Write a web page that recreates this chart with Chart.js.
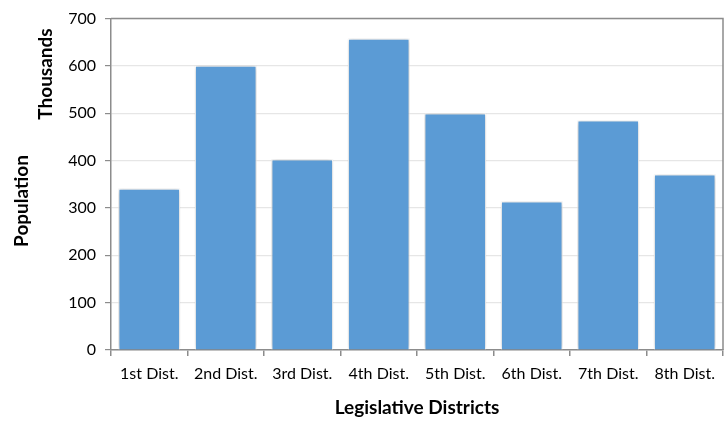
<!DOCTYPE html>
<html><head><meta charset="utf-8">
<script src="https://cdn.jsdelivr.net/npm/chart.js@4"></script>
<style>html,body{margin:0;padding:0;background:#fff}#wrap{width:727px;height:423px}</style>
</head><body><div id="wrap"><canvas id="c" width="727" height="423"></canvas></div>
<script>
const categories = ["1st Dist.", "2nd Dist.", "3rd Dist.", "4th Dist.", "5th Dist.", "6th Dist.", "7th Dist.", "8th Dist."];
const population = [341, 601, 403, 658, 500, 314, 485, 371];
const yTicks = [0, 100, 200, 300, 400, 500, 600, 700];
const xTitle = "Legislative Districts";
const yTitle = "Population";
const unitsLabel = "Thousands";

const FONT = "Lato, 'Open Sans', sans-serif";

function vText(ctx, text, x, y) {
  ctx.save();
  ctx.translate(x, y);
  ctx.rotate(-Math.PI / 2);
  ctx.font = "bold 19px " + FONT;
  ctx.fillStyle = '#000';
  ctx.textAlign = 'center';
  ctx.textBaseline = 'middle';
  ctx.fillText(text, 0, 0);
  ctx.restore();
}

const extras = {
  id: 'extras',
  beforeDatasetsDraw(chart) {
    const ctx = chart.ctx;
    ctx.save();
    ctx.shadowColor = 'rgba(0,0,0,0.28)';
    ctx.shadowBlur = 5;
  },
  afterDatasetsDraw(chart) {
    const ctx = chart.ctx;
    ctx.restore();
    const a = chart.chartArea;
    ctx.save();
    ctx.strokeStyle = '#8c8c8c';
    ctx.lineWidth = 1.5;
    ctx.beginPath();
    ctx.moveTo(a.left, a.top);
    ctx.lineTo(a.right, a.top);
    ctx.lineTo(a.right, a.bottom);
    ctx.stroke();
    ctx.restore();
  },
  afterDraw(chart) {
    vText(chart.ctx, unitsLabel, 46, 74);
    vText(chart.ctx, yTitle, 22, 201);
  }
};

new Chart(document.getElementById('c'), {
  type: 'bar',
  data: {
    labels: categories,
    datasets: [{
      data: population,
      backgroundColor: '#5B9BD5',
      borderColor: '#ffffff',
      borderWidth: 1.2,
      barPercentage: 0.81,
      categoryPercentage: 1.0
    }]
  },
  options: {
    responsive: false,
    animation: false,
    devicePixelRatio: 1,
    layout: { padding: { left: 0, right: 4, top: 17, bottom: 4 } },
    plugins: { legend: { display: false }, tooltip: { enabled: false } },
    scales: {
      x: {
        grid: { drawOnChartArea: false, drawTicks: true, tickLength: 6, color: '#8c8c8c', lineWidth: 1.5 },
        border: { color: '#8c8c8c', width: 1.5 },
        ticks: { color: '#000', font: { family: FONT, size: 16 }, padding: 8, maxRotation: 0, autoSkip: false },
        title: { display: true, text: xTitle, color: '#000', font: { family: FONT, size: 19, weight: 'bold' }, padding: { top: 13, bottom: 0 } },
        afterFit(s) { s.height = 423 - 350 - 4; }
      },
      y: {
        min: 0, max: 700,
        afterBuildTicks(s) { s.ticks = yTicks.map(v => ({ value: v })); },
        grid: { color: '#e6e6e6', lineWidth: 1.2, drawTicks: true, tickLength: 6, tickColor: '#8c8c8c' },
        border: { color: '#8c8c8c', width: 1.5 },
        ticks: { color: '#000', font: { family: FONT, size: 16 }, padding: 9 },
        title: { display: false },
        afterFit(s) { s.width = 111; }
      }
    }
  },
  plugins: [extras]
});
</script></body></html>
